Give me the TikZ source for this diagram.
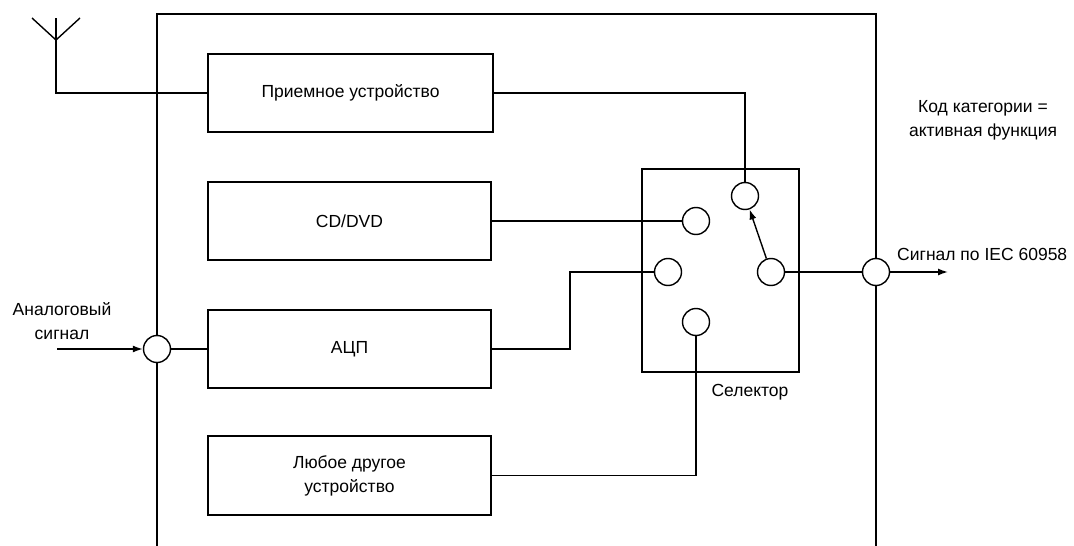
\documentclass[tikz,border=0pt]{standalone}
\usepackage{fontspec}
\setmainfont{Liberation Sans}
\usetikzlibrary{arrows.meta}
\begin{document}
\begin{tikzpicture}[x=1pt,y=-1pt,
  box/.style={draw, line width=1.6pt, inner sep=0pt, align=center},
  contact/.style={draw, circle, line width=1.4pt, minimum size=27pt, inner sep=0pt, fill=white},
  wire/.style={line width=1.4pt},
  arr/.style={wire, -{Latex[length=10pt,width=7pt]}},
  lbl/.style={inner sep=0pt, align=center, font=\fontsize{17.5}{24}\selectfont}
]
\useasboundingbox (0,0) rectangle (1074,546);
% outer frame (open at the bottom)
\draw[line width=1.6pt] (157,546) -- (157,14) -- (876,14) -- (876,546);
% selector frame
\node[draw, line width=1.6pt, minimum width=157pt, minimum height=203pt, inner sep=0pt] (sel) at (720.5,270.5) {};
\node[lbl, anchor=north] (sellbl) at (750,384) {Селектор};
% blocks
\node[box, lbl, minimum width=285pt, minimum height=78pt] (recv) at (350.5,93) {Приемное устройство};
\node[box, lbl, minimum width=283pt, minimum height=78pt] (cd) at (349.5,221) {CD/DVD};
\node[box, lbl, minimum width=283pt, minimum height=78pt] (adc) at (349.5,349) {АЦП};
\node[box, lbl, minimum width=283pt, minimum height=79pt] (other) at (349.5,475.5) {Любое другое\\устройство};
% contacts
\node[contact] (cA) at (745,196) {};
\node[contact] (cB) at (696,221) {};
\node[contact] (cC) at (668,272) {};
\node[contact] (cD) at (696,322) {};
\node[contact] (cCom) at (771,272) {};
\node[contact] (cOut) at (876,272) {};
\node[contact] (cIn) at (157,349) {};
% antenna
\coordinate (antTop) at (56,18);
\coordinate (antJoin) at (56,40);
\coordinate (antL) at (32,18);
\coordinate (antR) at (80,18);
\coordinate (antBot) at (56,93);
\draw[wire] (antL) -- (antJoin) -- (antR);
\draw[wire] (antTop) -- (antBot) -- (recv.west);
% wiring
\draw[wire] (recv.east) -| (cA.north);
\draw[wire] (cd.east) -- (cB.west);
\coordinate (adcBend) at (570,349);
\draw[wire] (adc.east) -- (adcBend) |- (cC.west);
\draw[wire] (other.east) -| (cD.south);
\draw[wire] (cCom.east) -- (cOut.west);
\draw[arr] (cCom) -- (cA);
\coordinate (outEnd) at (948,272);
\draw[arr] (cOut.east) -- (outEnd);
\coordinate (inStart) at (57,349);
\draw[arr] (inStart) -- (cIn.west);
\draw[wire] (cIn.east) -- (adc.west);
% labels
\node[lbl] (cat) at (983,120) {Код категории =\\активная функция};
\node[lbl, anchor=west] (outlbl) at (897,254) {Сигнал по IEC 60958};
\node[lbl] (inlbl) at (62,321) {Аналоговый\\сигнал};
\end{tikzpicture}
\end{document}
